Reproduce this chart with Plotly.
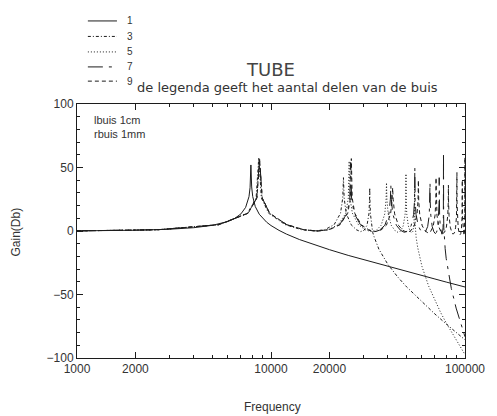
import plotly.graph_objects as go

# Gain of a 1 cm closed tube (radius 1 mm) modelled with 1, 3, 5, 7 and 9 sections

freq_1 = [1000, 1500, 2000, 3000, 4000, 5000, 6000, 6500, 7000, 7400, 7700, 7800, 7878, 7950,
          8050, 8300, 8700, 9500, 10000, 11000, 12000, 14000, 17000, 20000, 25000, 30000,
          40000, 50000, 60000, 70000, 80000, 90000, 100000]
gain_1 = [0.1, 0.3, 0.6, 1.4, 2.6, 4.5, 7.5, 9.9, 13.5, 18.6, 27.0, 34.1, 52.0, 34.7,
          27.1, 19.2, 13.2, 6.9, 4.3, 0.5, -2.4, -6.7, -11.3, -14.7, -19.2, -22.6,
          -27.9, -31.9, -35.1, -37.8, -40.2, -42.2, -44.1]

freq_3 = [1000, 2000, 2620, 5385, 7569, 8380, 8650, 8918, 9721, 11829, 14389, 16710,
          18927, 21155, 22825, 23432, 23632, 23827, 24405, 25873, 27540, 28943,
          30154, 31251, 31978, 32215, 32281, 32346, 32549, 32980, 33316, 33420,
          34000, 36000, 40000, 45000, 50000, 60000, 70000, 80000, 90000, 100000]
gain_3 = [0.1, 0.6, 1.0, 5.0, 14.0, 26.0, 58.0, 26.0, 14.0, 5.0, 1.0, 0.0,
          1.0, 5.0, 14.0, 26.0, 42.0, 26.0, 14.0, 5.0, 1.0, -0.5,
          0.5, 4.5, 13.5, 25.0, 34.0, 25.0, 13.5, 4.5, 0.5, -1.0,
          -4.6, -14.4, -26.2, -36.2, -44.0, -56.0, -65.4, -73.2, -79.8, -85.7]

freq_5 = [1000, 2000, 2621, 5399, 7611, 8438, 8713, 8988, 9812, 11997, 14700, 17212,
          19686, 22266, 24291, 25039, 25287, 25535, 26272, 28217, 30580, 32740,
          34839, 36960, 38594, 39189, 39386, 39582, 40165, 41672, 43474, 45062,
          46556, 48025, 49114, 49503, 49629, 49754, 50122, 51048, 52096, 52974,
          53733, 54391, 54824, 54965, 55014, 55057, 55186, 55435, 55638, 55700,
          56000, 57000, 58000, 60000, 65000, 70000, 75000, 80000, 90000, 100000]
gain_5 = [0.1, 0.6, 1.0, 5.0, 14.0, 26.0, 56.0, 26.0, 14.0, 5.0, 1.0, 0.0,
          1.0, 5.0, 14.0, 26.0, 55.0, 26.0, 14.0, 5.0, 1.0, -0.5,
          0.5, 4.5, 13.5, 25.0, 38.0, 25.0, 13.5, 4.5, 0.5, -1.0,
          0.0, 4.0, 13.0, 24.0, 45.0, 24.0, 13.0, 4.0, 0.0, -1.5,
          -0.5, 3.5, 12.5, 23.0, 35.0, 23.0, 12.5, 3.5, -0.5, -1.5,
          -5.0, -12.8, -18.9, -27.9, -43.5, -55.0, -64.4, -72.4, -86.0, -97.3]

freq_7 = [1000, 2000, 2622, 5403, 7623, 8454, 8731, 9008, 9837, 12043, 14786, 17352,
          19899, 22578, 24701, 25493, 25756, 26019, 26804, 28885, 31452, 33834,
          36177, 38623, 40534, 41242, 41477, 41713, 42415, 44278, 46554, 48620,
          50648, 52725, 54345, 54940, 55140, 55337, 55926, 57458, 59300, 60967,
          62559, 64199, 65428, 65872, 66027, 66181, 66638, 67760, 69081, 70258,
          71361, 72437, 73235, 73526, 73620, 73714, 73990, 74653, 75410, 76025,
          76573, 77051, 77355, 77449, 77479, 77508, 77597, 77790, 77939, 77980,
          79000, 80000, 85000, 90000, 95000, 100000]
gain_7 = [0.1, 0.6, 1.0, 5.0, 14.0, 26.0, 57.0, 26.0, 14.0, 5.0, 1.0, 0.0,
          1.0, 5.0, 14.0, 26.0, 54.0, 26.0, 14.0, 5.0, 1.0, -0.5,
          0.5, 4.5, 13.5, 25.0, 36.0, 25.0, 13.5, 4.5, 0.5, -1.0,
          0.0, 4.0, 13.0, 24.0, 50.0, 24.0, 13.0, 4.0, 0.0, -1.5,
          -0.5, 3.5, 12.5, 23.0, 38.0, 23.0, 12.5, 3.5, -0.5, -2.0,
          -1.0, 3.0, 12.0, 22.0, 42.0, 22.0, 12.0, 3.0, -1.0, -2.5,
          -1.5, 2.5, 11.5, 22.0, 62.0, 22.0, 11.5, 2.5, -1.5, -3.0,
          -13.7, -21.6, -45.2, -60.7, -72.9, -83.3]

freq_9 = [1000, 2000, 2622, 5405, 7628, 8461, 8738, 9016, 9848, 12062, 14822, 17410,
          19986, 22707, 24872, 25680, 25949, 26218, 27024, 29162, 31815, 34291,
          36744, 39321, 41359, 42117, 42372, 42626, 43383, 45378, 47844, 50130,
          52381, 54737, 56591, 57279, 57507, 57735, 58416, 60212, 62418, 64446,
          66430, 68493, 70103, 70698, 70895, 71092, 71678, 73218, 75095, 76804,
          78460, 80166, 81485, 81968, 82128, 82288, 82762, 84000, 85489, 86828,
          88107, 89404, 90390, 90749, 90866, 90984, 91331, 92228, 93286, 94214,
          95077, 95925, 96549, 96772, 96844, 96916, 97126, 97655, 98249, 98737,
          99166, 99531, 99775, 99852, 99879, 99904, 99975, 100000]
gain_9 = [0.1, 0.6, 1.0, 5.0, 14.0, 26.0, 56.0, 26.0, 14.0, 5.0, 1.0, 0.0,
          1.0, 5.0, 14.0, 26.0, 57.0, 26.0, 14.0, 5.0, 1.0, -0.5,
          0.5, 4.5, 13.5, 25.0, 34.0, 25.0, 13.5, 4.5, 0.5, -1.0,
          0.0, 4.0, 13.0, 24.0, 40.0, 24.0, 13.0, 4.0, 0.0, -1.5,
          -0.5, 3.5, 12.5, 23.0, 42.0, 23.0, 12.5, 3.5, -0.5, -2.0,
          -1.0, 3.0, 12.0, 22.0, 36.0, 22.0, 12.0, 3.0, -1.0, -2.5,
          -1.5, 2.5, 11.5, 22.0, 46.0, 22.0, 11.5, 2.5, -1.5, -3.0,
          -2.0, 2.0, 11.0, 21.0, 40.0, 21.0, 11.0, 2.0, -2.0, -3.5,
          -2.5, 1.5, 10.5, 21.0, 58.0, 21.0, 11.0, 9.0]

series_names = ["1", "3", "5", "7", "9"]
series_freq = [freq_1, freq_3, freq_5, freq_7, freq_9]
series_gain = [gain_1, gain_3, gain_5, gain_7, gain_9]
series_dash = ["solid", "3px,2px,1px,2px", "1px,2px", "longdashdot", "4px,3px"]

x_tickvals = [1000, 2000, 10000, 20000, 100000]
x_ticktext = ["1000", "2000", "10000", "20000", "100000"]
x_minorvals = [3000, 4000, 5000, 6000, 7000, 8000, 9000,
               30000, 40000, 50000, 60000, 70000, 80000, 90000]
y_tickvals = [-100, -50, 0, 50, 100]

INK = "#1c1c1c"
TEXT = "#333333"
FONT = "Liberation Sans"
WIDE = "DejaVu Sans"

fig = go.Figure()
for name, f, g, dash in zip(series_names, series_freq, series_gain, series_dash):
    fig.add_trace(go.Scatter(x=f, y=g, mode="lines", name=name, showlegend=False,
                             line=dict(color=INK, width=1, dash=dash)))

# hand-placed legend block above the plot area
legend_y = [1.327, 1.266, 1.205, 1.146, 1.090]
shapes = []
annotations = []
for name, dash, ly in zip(series_names, series_dash, legend_y):
    shapes.append(dict(type="line", xref="paper", yref="paper", x0=0.028, x1=0.103,
                       y0=ly, y1=ly, line=dict(color=INK, width=1, dash=dash)))
    annotations.append(dict(xref="paper", yref="paper", x=0.124, y=ly, text=name,
                            showarrow=False, xanchor="left", yanchor="middle",
                            font=dict(size=10, color=TEXT, family=FONT)))

annotations += [
    dict(xref="paper", yref="paper", x=0.498, y=1.134, text="TUBE", showarrow=False,
         xanchor="center", yanchor="middle", font=dict(size=18, color="#444", family=WIDE)),
    dict(xref="paper", yref="paper", x=0.543, y=1.063,
         text="de legenda geeft het aantal delen van de buis", showarrow=False,
         xanchor="center", yanchor="middle", font=dict(size=13, color=TEXT, family=WIDE)),
    dict(xref="paper", yref="paper", x=0.038, y=0.97, text="lbuis 1cm<br>rbuis 1mm",
         showarrow=False, xanchor="left", yanchor="top", align="left",
         font=dict(size=11, color=TEXT, family=FONT)),
    dict(xref="paper", yref="paper", x=0.504, y=-0.193, text="Frequency", showarrow=False,
         xanchor="center", yanchor="middle", font=dict(size=12, color=TEXT, family=FONT)),
    dict(xref="paper", yref="paper", x=-0.156, y=0.496, text="Gain(Db)", showarrow=False,
         textangle=-90, xanchor="center", yanchor="middle",
         font=dict(size=12, color=TEXT, family=FONT)),
]

fig.update_layout(
    width=497, height=416,
    margin=dict(l=77, r=23, t=104, b=58),
    paper_bgcolor="white", plot_bgcolor="white",
    shapes=shapes, annotations=annotations,
    font=dict(family=FONT, size=12, color=TEXT),
)
fig.update_xaxes(type="log", range=[3, 5], tickvals=x_tickvals, ticktext=x_ticktext,
                 ticks="inside", ticklen=6, tickcolor=INK, showline=True, linecolor=INK,
                 linewidth=1, mirror="allticks", showgrid=False, zeroline=False,
                 tickfont=dict(size=12, color=TEXT),
                 minor=dict(tickvals=x_minorvals, ticks="inside", ticklen=3,
                            tickcolor=INK, showgrid=False))
fig.update_yaxes(range=[-100, 100], tickvals=y_tickvals, ticks="inside", ticklen=6,
                 tickcolor=INK, showline=True, linecolor=INK, linewidth=1,
                 mirror="allticks", showgrid=False, zeroline=False,
                 tickfont=dict(size=12, color=TEXT),
                 minor=dict(dtick=10, ticks="inside", ticklen=3, tickcolor=INK,
                            showgrid=False))

fig.write_html("out.html")
